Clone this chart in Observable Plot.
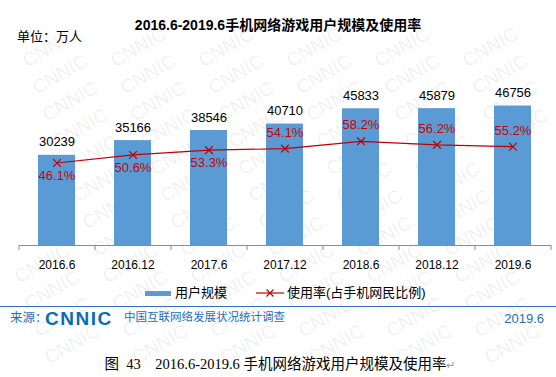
<!DOCTYPE html>
<html>
<head>
<meta charset="utf-8">
<script src="https://cdn.jsdelivr.net/npm/d3@7"></script>
<script src="https://cdn.jsdelivr.net/npm/@observablehq/plot@0.6"></script>
<style>
  html, body { margin: 0; padding: 0; background: #fff; }
  #page { position: relative; width: 556px; height: 377px; overflow: hidden; background: #fff;
          font-family: "Liberation Sans", "Noto Sans CJK SC", sans-serif; }
  .abs { position: absolute; white-space: pre; line-height: 1; }
  #wm { position: absolute; left: 0; top: 0; width: 556px; height: 377px; pointer-events: none; }
  #wm span { position: absolute; font: 19px "Liberation Sans", sans-serif; color: rgba(0,0,0,0.07);
             transform: translate(-50%, -50%) rotate(-30deg); white-space: pre; line-height: 1; }
  #chart { position: absolute; left: 0; top: 40px; }
</style>
</head>
<body>
<div id="page">
  <div id="wm"></div>
  <div class="abs" style="left:0;width:556px;text-align:center;top:18px;font-size:14px;font-weight:bold;color:#000;">2016.6-2019.6手机网络游戏用户规模及使用率</div>
  <div class="abs" style="left:17px;top:30px;font-size:13px;color:#000;">单位：万人</div>
  <div id="chart"></div>
  <!-- legend -->
  <div class="abs" style="left:145px;top:291px;width:26px;height:5px;background:#5b9bd5;"></div>
  <div class="abs" style="left:175px;top:286px;font-size:13px;color:#000;">用户规模</div>
  <svg class="abs" style="left:255px;top:287px;" width="30" height="12">
    <line x1="1" y1="6" x2="29" y2="6" stroke="#c00000" stroke-width="1.2"/>
    <path d="M11.5,2.5L18.5,9.5M18.5,2.5L11.5,9.5" stroke="#c00000" stroke-width="1.2"/>
  </svg>
  <div class="abs" style="left:287px;top:286px;font-size:13px;color:#000;">使用率(占手机网民比例)</div>
  <!-- footer -->
  <div class="abs" style="left:0;top:306px;width:556px;height:1px;background:#2e75b6;"></div>
  <div class="abs" style="left:10px;top:312px;font-size:12.5px;color:#1f6fb9;">来源：</div>
  <div class="abs" style="left:45px;top:309px;font-size:19px;font-weight:bold;color:#0b6cb6;letter-spacing:1.5px;">CNNIC</div>
  <div class="abs" style="left:124px;top:312px;font-size:11.5px;color:#1f6fb9;">中国互联网络发展状况统计调查</div>
  <div class="abs" style="right:12px;top:312px;font-size:13px;color:#1f6fb9;">2019.6</div>
  <!-- caption -->
  <div class="abs" style="left:0;width:560px;text-align:center;top:357px;font-size:14.5px;color:#000;font-family:'Liberation Serif','Noto Sans CJK SC',serif;">图  43    2016.6-2019.6 手机网络游戏用户规模及使用率<span style="color:#999;font-size:11px;">↵</span></div>
</div>
<script>
// ---- data ----
const periods = ["2016.6", "2016.12", "2017.6", "2017.12", "2018.6", "2018.12", "2019.6"];
const users = [30239, 35166, 38546, 40710, 45833, 45879, 46756];   // 万人
const rates = [46.1, 50.6, 53.3, 54.1, 58.2, 56.2, 55.2];           // %

// axis ranges (left: users, right: rate)
const usersMax = 60000;
const rateMax = 100;
const k = usersMax / rateMax;

const rows = periods.map((p, i) => ({period: p, users: users[i], rate: rates[i], ry: rates[i] * k, i}));

const blue = "#5b9bd5";
const red = "#c00000";
const font = "'Liberation Sans', 'Noto Sans CJK SC', sans-serif";

const step = (556 - 19 - 5) / periods.length;

const chart = Plot.plot({
  width: 556,
  height: 240,
  marginTop: 26,
  marginBottom: 35,
  marginLeft: 19,
  marginRight: 5,
  style: {fontFamily: font, background: "transparent", overflow: "visible"},
  x: {domain: periods, paddingInner: 0.51, paddingOuter: 0.255, label: null},
  y: {domain: [0, usersMax], axis: null},
  marks: [
    Plot.barY(rows, {x: "period", y: "users", fill: blue}),
    Plot.ruleY([0], {stroke: "#8c8c8c", strokeWidth: 1}),
    Plot.ruleX(periods, {x: d => d, dx: -step / 2, y1: 0, y2: 0, insetBottom: -5, stroke: "#8c8c8c"}),
    Plot.ruleX(periods.slice(-1), {x: d => d, dx: step / 2, y1: 0, y2: 0, insetBottom: -5, stroke: "#8c8c8c"}),
    Plot.axisX({tickSize: 0, tickPadding: 15, fontSize: 12, fill: "#000", label: null}),
    Plot.text(rows, {x: "period", y: "users", text: d => String(d.users), dy: -13, fontSize: 13, fill: "#000"}),
    Plot.line(rows, {x: "period", y: "ry", stroke: red, strokeWidth: 1.2}),
    Plot.dot(rows, {x: "period", y: "ry", symbol: "times", r: 3.6, stroke: red, strokeWidth: 1.2}),
    Plot.text(rows.filter(d => d.i < 3), {x: "period", y: "ry", text: d => d.rate.toFixed(1) + "%", dy: 13, fontSize: 13, fill: "#cc0000"}),
    Plot.text(rows.filter(d => d.i >= 3), {x: "period", y: "ry", text: d => d.rate.toFixed(1) + "%", dy: -16, fontSize: 13, fill: "#cc0000"})
  ]
});
document.getElementById("chart").appendChild(chart);

// faint "CNNIC" watermark lattice (decoration), only whole words inside the page
const wm = document.getElementById("wm");
for (let r = -2; r < 16; r++) {
  for (let c = -4; c < 9; c++) {
    const cx = c * 88 + r * 10 + 40;
    const cy = r * 27 + 20;
    if (cx < 33 || cx > 523 || cy < 26 || cy > 351) continue;
    const s = document.createElement("span");
    s.textContent = "CNNIC";
    s.style.left = cx + "px";
    s.style.top = cy + "px";
    wm.appendChild(s);
  }
}
</script>
</body>
</html>
